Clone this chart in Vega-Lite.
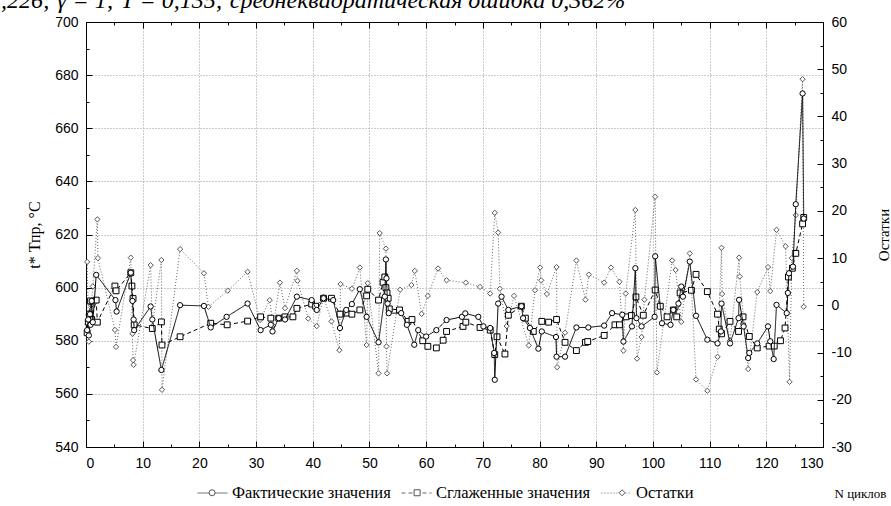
{
"$schema": "https://vega.github.io/schema/vega-lite/v6.json",
"width": 737, "height": 425,
"autosize": {"type": "none"},
"padding": {"left": 86, "top": 22, "right": 68, "bottom": 59},
"background": "white",
"config": {
  "view": {"stroke": "black", "strokeWidth": 1},
  "axis": {"labelFont": "Liberation Sans", "labelFontSize": 14, "labelColor": "#000", "domainColor": "#000", "tickColor": "#000", "titleFont": "Liberation Serif", "titleFontWeight": "normal", "titleFontSize": 16, "titleColor": "#000", "gridColor": "#999", "gridDash": [1, 2], "labelPadding": 14}
},
"title": {"text": ",226; γ = 1; T = 0,135; среднеквадратическая ошибка 0,362%", "anchor": "start", "frame": "group", "dx": -85, "offset": 0, "dy": 17, "baseline": "alphabetic", "font": "Liberation Serif", "fontStyle": "italic", "fontWeight": "normal", "fontSize": 24, "color": "#000"},
"datasets": {
"fact": [
{"s":"Фактические значения","x":0.2,"v":584},{"s":"Фактические значения","x":0.4,"v":588},{"s":"Фактические значения","x":0.5,"v":582},{"s":"Фактические значения","x":0.7,"v":590},{"s":"Фактические значения","x":0.8,"v":586},{"s":"Фактические значения","x":1.0,"v":595},{"s":"Фактические значения","x":1.2,"v":587},{"s":"Фактические значения","x":1.8,"v":604.8},{"s":"Фактические значения","x":5.2,"v":595.3},{"s":"Фактические значения","x":5.4,"v":591},{"s":"Фактические значения","x":7.9,"v":605.6},{"s":"Фактические значения","x":8.2,"v":595},{"s":"Фактические значения","x":8.4,"v":588},{"s":"Фактические значения","x":8.5,"v":584},{"s":"Фактические значения","x":11.4,"v":592.9},{"s":"Фактические значения","x":11.7,"v":588},{"s":"Фактические значения","x":13.3,"v":569},{"s":"Фактические значения","x":16.6,"v":593.4},{"s":"Фактические значения","x":20.8,"v":593.1},{"s":"Фактические значения","x":22.0,"v":585},{"s":"Фактические значения","x":24.8,"v":589},{"s":"Фактические значения","x":28.5,"v":594},{"s":"Фактические значения","x":30.8,"v":584},{"s":"Фактические значения","x":32.6,"v":586},{"s":"Фактические значения","x":32.9,"v":583.5},{"s":"Фактические значения","x":34,"v":588.5},{"s":"Фактические значения","x":35.1,"v":588},{"s":"Фактические значения","x":37.2,"v":596.6},{"s":"Фактические значения","x":39.8,"v":595.3},{"s":"Фактические значения","x":40.7,"v":591.6},{"s":"Фактические значения","x":41.9,"v":596},{"s":"Фактические значения","x":43.6,"v":595.3},{"s":"Фактические значения","x":44.8,"v":584.8},{"s":"Фактические значения","x":45.9,"v":591.6},{"s":"Фактические значения","x":46.9,"v":593.8},{"s":"Фактические значения","x":48.3,"v":599.4},{"s":"Фактические значения","x":49.5,"v":589},{"s":"Фактические значения","x":51.6,"v":579.4},{"s":"Фактические значения","x":52.7,"v":596.6},{"s":"Фактические значения","x":52.9,"v":610.6},{"s":"Фактические значения","x":53.0,"v":603.5},{"s":"Фактические значения","x":53.2,"v":594},{"s":"Фактические значения","x":53.4,"v":590.4},{"s":"Фактические значения","x":55.6,"v":590.4},{"s":"Фактические значения","x":56.6,"v":586},{"s":"Фактические значения","x":57.9,"v":578.5},{"s":"Фактические значения","x":58.6,"v":584},{"s":"Фактические значения","x":60,"v":581.6},{"s":"Фактические значения","x":61.8,"v":584},{"s":"Фактические значения","x":63.6,"v":587.8},{"s":"Фактические значения","x":66.3,"v":589},{"s":"Фактические значения","x":66.9,"v":590.3},{"s":"Фактические значения","x":69.2,"v":589},{"s":"Фактические значения","x":70.1,"v":585.4},{"s":"Фактические значения","x":71.3,"v":584.8},{"s":"Фактические значения","x":72.0,"v":575.4},{"s":"Фактические значения","x":72.1,"v":565.3},{"s":"Фактические значения","x":72.7,"v":594},{"s":"Фактические значения","x":73.3,"v":596.6},{"s":"Фактические значения","x":74.5,"v":591.6},{"s":"Фактические значения","x":76.8,"v":593},{"s":"Фактические значения","x":77.1,"v":588.5},{"s":"Фактические значения","x":78.3,"v":584.8},{"s":"Фактические значения","x":79.8,"v":577},{"s":"Фактические значения","x":80.4,"v":583.5},{"s":"Фактические значения","x":82.9,"v":581.4},{"s":"Фактические значения","x":83.0,"v":574},{"s":"Фактические значения","x":84.5,"v":574},{"s":"Фактические значения","x":86.5,"v":585},{"s":"Фактические значения","x":88.6,"v":585},{"s":"Фактические значения","x":91.4,"v":585.7},{"s":"Фактические значения","x":92.8,"v":590.4},{"s":"Фактические значения","x":94.6,"v":589.8},{"s":"Фактические значения","x":94.8,"v":579.7},{"s":"Фактические значения","x":96.3,"v":585.4},{"s":"Фактические значения","x":96.9,"v":607.3},{"s":"Фактические значения","x":97.1,"v":588.5},{"s":"Фактические значения","x":98,"v":585.4},{"s":"Фактические значения","x":100.3,"v":589},{"s":"Фактические значения","x":100.4,"v":611.8},{"s":"Фактические значения","x":101.6,"v":586.6},{"s":"Фактические значения","x":103.1,"v":586},{"s":"Фактические значения","x":103.6,"v":591.6},{"s":"Фактические значения","x":104.5,"v":594},{"s":"Фактические значения","x":105,"v":600.4},{"s":"Фактические значения","x":105.3,"v":596.6},{"s":"Фактические значения","x":106.5,"v":609.8},{"s":"Фактические значения","x":107.6,"v":589.4},{"s":"Фактические значения","x":109.6,"v":580.4},{"s":"Фактические значения","x":111.4,"v":579},{"s":"Фактические значения","x":112.0,"v":583.5},{"s":"Фактические значения","x":112.1,"v":594},{"s":"Фактические значения","x":113.6,"v":579},{"s":"Фактические значения","x":115.1,"v":588.5},{"s":"Фактические значения","x":115.2,"v":595.4},{"s":"Фактические значения","x":116,"v":585.4},{"s":"Фактические значения","x":116.8,"v":573.5},{"s":"Фактические значения","x":117.0,"v":575.4},{"s":"Фактические значения","x":118.4,"v":579},{"s":"Фактические значения","x":120.3,"v":585.4},{"s":"Фактические значения","x":120.7,"v":579.8},{"s":"Фактические значения","x":121.3,"v":573.1},{"s":"Фактические значения","x":121.8,"v":593.5},{"s":"Фактические значения","x":123.6,"v":590.4},{"s":"Фактические значения","x":123.8,"v":598},{"s":"Фактические значения","x":124.0,"v":605.4},{"s":"Фактические значения","x":124.7,"v":607.9},{"s":"Фактические значения","x":125.2,"v":631.4},{"s":"Фактические значения","x":126.4,"v":673.1},{"s":"Фактические значения","x":126.6,"v":626}
],
"smooth": [
{"s":"Сглаженные значения","x":0.2,"v":583},{"s":"Сглаженные значения","x":0.4,"v":587},{"s":"Сглаженные значения","x":0.6,"v":590},{"s":"Сглаженные значения","x":0.8,"v":595},{"s":"Сглаженные значения","x":1.0,"v":588},{"s":"Сглаженные значения","x":1.8,"v":595.3},{"s":"Сглаженные значения","x":2.0,"v":587},{"s":"Сглаженные значения","x":5.1,"v":600.6},{"s":"Сглаженные значения","x":5.3,"v":598.8},{"s":"Сглаженные значения","x":7.9,"v":605.6},{"s":"Сглаженные значения","x":8.1,"v":600.6},{"s":"Сглаженные значения","x":8.3,"v":595.9},{"s":"Сглаженные значения","x":8.5,"v":586},{"s":"Сглаженные значения","x":11.7,"v":584.6},{"s":"Сглаженные значения","x":13.3,"v":587.1},{"s":"Сглаженные значения","x":13.4,"v":578.4},{"s":"Сглаженные значения","x":16.6,"v":581.5},{"s":"Сглаженные значения","x":22,"v":586.6},{"s":"Сглаженные значения","x":24.9,"v":586},{"s":"Сглаженные значения","x":28.5,"v":587.4},{"s":"Сглаженные значения","x":30.8,"v":589},{"s":"Сглаженные значения","x":32.6,"v":588.5},{"s":"Сглаженные значения","x":34,"v":588.5},{"s":"Сглаженные значения","x":35.1,"v":589},{"s":"Сглаженные значения","x":36.5,"v":589},{"s":"Сглаженные значения","x":37.2,"v":592.2},{"s":"Сглаженные значения","x":39.8,"v":593.8},{"s":"Сглаженные значения","x":40.5,"v":593},{"s":"Сглаженные значения","x":41.9,"v":596},{"s":"Сглаженные значения","x":43.3,"v":596},{"s":"Сглаженные значения","x":44.8,"v":590},{"s":"Сглаженные значения","x":45.9,"v":590.4},{"s":"Сглаженные значения","x":46.9,"v":590},{"s":"Сглаженные значения","x":48.3,"v":591.6},{"s":"Сглаженные значения","x":49.5,"v":596.9},{"s":"Сглаженные значения","x":49.7,"v":599.4},{"s":"Сглаженные значения","x":51.6,"v":595.3},{"s":"Сглаженные значения","x":52.4,"v":602},{"s":"Сглаженные значения","x":52.7,"v":604},{"s":"Сглаженные значения","x":52.9,"v":600},{"s":"Сглаженные значения","x":53.1,"v":598},{"s":"Сглаженные значения","x":53.3,"v":596},{"s":"Сглаженные значения","x":53.5,"v":592},{"s":"Сглаженные значения","x":55.3,"v":591.6},{"s":"Сглаженные значения","x":56.8,"v":587.3},{"s":"Сглаженные значения","x":57.5,"v":588},{"s":"Сглаженные значения","x":59.4,"v":580},{"s":"Сглаженные значения","x":60.3,"v":577.9},{"s":"Сглаженные значения","x":61.8,"v":577.3},{"s":"Сглаженные значения","x":63,"v":580.2},{"s":"Сглаженные значения","x":63.6,"v":583.5},{"s":"Сглаженные значения","x":66.5,"v":585.4},{"s":"Сглаженные значения","x":67,"v":587},{"s":"Сглаженные значения","x":69.5,"v":585},{"s":"Сглаженные значения","x":71.3,"v":584},{"s":"Сглаженные значения","x":72.1,"v":574.8},{"s":"Сглаженные значения","x":72.5,"v":581.5},{"s":"Сглаженные значения","x":73.9,"v":575},{"s":"Сглаженные значения","x":74.5,"v":589.6},{"s":"Сглаженные значения","x":76.8,"v":593},{"s":"Сглаженные значения","x":77.5,"v":588.5},{"s":"Сглаженные значения","x":78.9,"v":583.5},{"s":"Сглаженные значения","x":80.4,"v":587.3},{"s":"Сглаженные значения","x":81.6,"v":587},{"s":"Сглаженные значения","x":83,"v":588},{"s":"Сглаженные значения","x":84.5,"v":579.4},{"s":"Сглаженные значения","x":86.5,"v":576.3},{"s":"Сглаженные значения","x":88.1,"v":579.4},{"s":"Сглаженные значения","x":88.5,"v":579.7},{"s":"Сглаженные значения","x":91.4,"v":582},{"s":"Сглаженные значения","x":93.3,"v":586},{"s":"Сглаженные значения","x":94.1,"v":586},{"s":"Сглаженные значения","x":95.3,"v":589},{"s":"Сглаженные значения","x":96.2,"v":589.5},{"s":"Сглаженные значения","x":97,"v":596.5},{"s":"Сглаженные значения","x":98.3,"v":589.6},{"s":"Сглаженные значения","x":100.4,"v":599.1},{"s":"Сглаженные значения","x":101.3,"v":593},{"s":"Сглаженные значения","x":102.5,"v":589},{"s":"Сглаженные значения","x":103.6,"v":591.6},{"s":"Сглаженные значения","x":104.2,"v":589},{"s":"Сглаженные значения","x":104.8,"v":598},{"s":"Сглаженные значения","x":106.8,"v":599},{"s":"Сглаженные значения","x":107.6,"v":605},{"s":"Сглаженные значения","x":109.6,"v":598.5},{"s":"Сглаженные значения","x":111.4,"v":590},{"s":"Сглаженные значения","x":111.7,"v":584.4},{"s":"Сглаженные значения","x":112.1,"v":582.6},{"s":"Сглаженные значения","x":113.6,"v":587.3},{"s":"Сглаженные значения","x":115.1,"v":583.5},{"s":"Сглаженные значения","x":115.9,"v":589},{"s":"Сглаженные значения","x":117,"v":581.6},{"s":"Сглаженные значения","x":118.4,"v":577.3},{"s":"Сглаженные значения","x":120.5,"v":578},{"s":"Сглаженные значения","x":121.4,"v":578},{"s":"Сглаженные значения","x":122.5,"v":580},{"s":"Сглаженные значения","x":123.3,"v":584.8},{"s":"Сглаженные значения","x":123.9,"v":604},{"s":"Сглаженные значения","x":124.6,"v":607.3},{"s":"Сглаженные значения","x":125.2,"v":612.9},{"s":"Сглаженные значения","x":126.4,"v":624},{"s":"Сглаженные значения","x":126.6,"v":626.4}
],
"resid": [
{"s":"Остатки","x":0.2,"v":9.2},{"s":"Остатки","x":0.4,"v":-2},{"s":"Остатки","x":0.5,"v":-7.7},{"s":"Остатки","x":0.7,"v":-4},{"s":"Остатки","x":0.9,"v":0},{"s":"Остатки","x":1.2,"v":4},{"s":"Остатки","x":2.0,"v":18.2},{"s":"Остатки","x":2.1,"v":10},{"s":"Остатки","x":5.1,"v":-5.2},{"s":"Остатки","x":5.3,"v":-8.8},{"s":"Остатки","x":7.9,"v":10.1},{"s":"Остатки","x":8.2,"v":-6},{"s":"Остатки","x":8.3,"v":-11.6},{"s":"Остатки","x":8.4,"v":-12.6},{"s":"Остатки","x":11.4,"v":8.5},{"s":"Остатки","x":11.7,"v":-4.4},{"s":"Остатки","x":13.3,"v":9.6},{"s":"Остатки","x":13.4,"v":-17.9},{"s":"Остатки","x":16.6,"v":11.9},{"s":"Остатки","x":20.8,"v":6.8},{"s":"Остатки","x":21.6,"v":-0.3},{"s":"Остатки","x":25,"v":3.1},{"s":"Остатки","x":28.5,"v":7.1},{"s":"Остатки","x":30.7,"v":-3.1},{"s":"Остатки","x":32.4,"v":1.1},{"s":"Остатки","x":33,"v":-4.3},{"s":"Остатки","x":34.2,"v":4.8},{"s":"Остатки","x":35.1,"v":-0.6},{"s":"Остатки","x":37.2,"v":7.3},{"s":"Остатки","x":37.3,"v":5.2},{"s":"Остатки","x":39.2,"v":-2.8},{"s":"Остатки","x":40.7,"v":-4.4},{"s":"Остатки","x":41.9,"v":1.8},{"s":"Остатки","x":43.3,"v":-3.4},{"s":"Остатки","x":44.7,"v":-9.5},{"s":"Остатки","x":44.9,"v":4.5},{"s":"Остатки","x":46.9,"v":3.5},{"s":"Остатки","x":48.3,"v":8},{"s":"Остатки","x":49.5,"v":-8.4},{"s":"Остатки","x":49.7,"v":4.7},{"s":"Остатки","x":51.6,"v":-14.4},{"s":"Остатки","x":51.8,"v":15.3},{"s":"Остатки","x":52.9,"v":12},{"s":"Остатки","x":53.0,"v":-8.7},{"s":"Остатки","x":53.1,"v":-14.4},{"s":"Остатки","x":55.4,"v":3.3},{"s":"Остатки","x":57.4,"v":4.3},{"s":"Остатки","x":58,"v":7.3},{"s":"Остатки","x":59.2,"v":-1.8},{"s":"Остатки","x":60.3,"v":2},{"s":"Остатки","x":62.1,"v":7.8},{"s":"Остатки","x":63.6,"v":5.3},{"s":"Остатки","x":67,"v":4.8},{"s":"Остатки","x":69.5,"v":3.9},{"s":"Остатки","x":71.3,"v":2.5},{"s":"Остатки","x":72.1,"v":19.6},{"s":"Остатки","x":72.7,"v":15.4},{"s":"Остатки","x":73,"v":3.5},{"s":"Остатки","x":74.2,"v":-4.4},{"s":"Остатки","x":75.5,"v":2},{"s":"Остатки","x":78.1,"v":-8.5},{"s":"Остатки","x":79.2,"v":3.2},{"s":"Остатки","x":80.1,"v":8},{"s":"Остатки","x":80.3,"v":5.3},{"s":"Остатки","x":81.3,"v":2.4},{"s":"Остатки","x":83,"v":8.1},{"s":"Остатки","x":83.1,"v":-13.1},{"s":"Остатки","x":84.5,"v":-5.8},{"s":"Остатки","x":86.5,"v":9.5},{"s":"Остатки","x":88.1,"v":1.2},{"s":"Остатки","x":88.7,"v":6.5},{"s":"Остатки","x":91.4,"v":4.8},{"s":"Остатки","x":92.6,"v":8},{"s":"Остатки","x":94.1,"v":5},{"s":"Остатки","x":94.8,"v":-9.6},{"s":"Остатки","x":95.2,"v":2.5},{"s":"Остатки","x":96.9,"v":20.2},{"s":"Остатки","x":97.2,"v":-11.3},{"s":"Остатки","x":98,"v":-6.7},{"s":"Остатки","x":98.5,"v":1.2},{"s":"Остатки","x":100.4,"v":23},{"s":"Остатки","x":100.7,"v":-14.2},{"s":"Остатки","x":103.4,"v":9.5},{"s":"Остатки","x":104,"v":7.5},{"s":"Остатки","x":105,"v":-3.5},{"s":"Остатки","x":106.5,"v":11},{"s":"Остатки","x":107.6,"v":-15.7},{"s":"Остатки","x":109.6,"v":-18.1},{"s":"Остатки","x":111.4,"v":-10.9},{"s":"Остатки","x":112.1,"v":12.2},{"s":"Остатки","x":112.2,"v":2.4},{"s":"Остатки","x":113.6,"v":-7.5},{"s":"Остатки","x":115.2,"v":10.1},{"s":"Остатки","x":115.3,"v":6.1},{"s":"Остатки","x":116.8,"v":-13.5},{"s":"Остатки","x":118.4,"v":2.8},{"s":"Остатки","x":120.3,"v":8.1},{"s":"Остатки","x":120.7,"v":3},{"s":"Остатки","x":121.8,"v":16},{"s":"Остатки","x":123.4,"v":12.5},{"s":"Остатки","x":124.1,"v":-16.2},{"s":"Остатки","x":124.5,"v":10},{"s":"Остатки","x":125.2,"v":19.1},{"s":"Остатки","x":126.4,"v":47.9},{"s":"Остатки","x":126.6,"v":-0.3}
]
},
"resolve": {"scale": {"y": "independent"}, "axis": {"x": "independent", "y": "independent"}},
"layer": [
  {
    "data": {"name": "resid"},
    "encoding": {
      "x": {"field": "x", "type": "quantitative", "scale": {"domain": [0, 130], "nice": false, "zero": false},
            "axis": {"orient": "top", "values": [0,5,10,15,20,25,30,35,40,45,50,55,60,65,70,75,80,85,90,95,100,105,110,115,120,125,130], "labels": false, "grid": false, "title": null,
                     "tickSize": {"condition": {"test": "datum.value % 10 !== 0", "value": -3}, "value": -6}}},
      "y": {"field": "v", "type": "quantitative", "scale": {"domain": [-30, 60], "nice": false, "zero": false},
            "axis": {"orient": "right", "values": [-30,-25,-20,-15,-10,-5,0,5,10,15,20,25,30,35,40,45,50,55,60], "grid": false,
                     "labelExpr": "datum.value % 10 === 0 ? replace(datum.label, '−', '-') : ''",
                     "tickSize": {"condition": {"test": "datum.value % 10 !== 0", "value": -3}, "value": -6},
                     "title": "Остатки", "titleAngle": 270, "titlePadding": 40, "titleFontSize": 15}}
    },
    "layer": [
      {"mark": {"type": "line", "stroke": "#666", "strokeWidth": 1},
       "encoding": {"strokeDash": {"field": "s", "type": "nominal", "sort": "descending", "scale": {"range": [[1, 0], [4, 3], [1, 2]]}}}},
      {"mark": {"type": "point", "filled": true, "fill": "white", "stroke": "#555", "strokeWidth": 1, "size": 28, "opacity": 1},
       "encoding": {"shape": {"field": "s", "type": "nominal", "scale": {"domain": ["Фактические значения", "Сглаженные значения", "Остатки"], "range": ["circle", "square", "diamond"]}}}}
    ]
  },
  {
    "encoding": {
      "x": {"field": "x", "type": "quantitative", "scale": {"domain": [0, 130], "nice": false, "zero": false},
            "axis": {"orient": "bottom", "values": [0,5,10,15,20,25,30,35,40,45,50,55,60,65,70,75,80,85,90,95,100,105,110,115,120,125,130],
                     "labelExpr": "datum.value % 10 === 0 ? datum.label : ''",
                     "tickSize": {"condition": {"test": "datum.value % 10 !== 0", "value": -3}, "value": -6},
                     "gridOpacity": {"condition": {"test": "datum.value % 10 !== 0", "value": 0}, "value": 1},
                     "grid": true, "labelPadding": 15,
                     "title": "N циклов", "titleX": 748, "titleY": 50, "titleAlign": "left", "titleBaseline": "alphabetic", "titleFontSize": 13}},
      "y": {"field": "v", "type": "quantitative", "scale": {"domain": [540, 700], "nice": false, "zero": false},
            "axis": {"orient": "left", "values": [540,550,560,570,580,590,600,610,620,630,640,650,660,670,680,690,700],
                     "labelExpr": "datum.value % 20 === 0 ? datum.label : ''",
                     "tickSize": {"condition": {"test": "datum.value % 20 !== 0", "value": -3}, "value": -6},
                     "gridOpacity": {"condition": {"test": "datum.value % 20 !== 0", "value": 0}, "value": 1},
                     "grid": true,
                     "title": "t* Тпр, °C", "titlePadding": 12}}
    },
    "layer": [
      {"data": {"name": "smooth"}, "mark": {"type": "line", "stroke": "#000", "strokeWidth": 1},
       "encoding": {"strokeDash": {"field": "s", "type": "nominal", "sort": "descending", "scale": {"range": [[1, 0], [4, 3], [1, 2]]}}}},
      {"data": {"name": "smooth"}, "mark": {"type": "point", "filled": true, "fill": "white", "stroke": "#000", "strokeWidth": 1, "size": 34, "opacity": 1},
       "encoding": {"shape": {"field": "s", "type": "nominal", "scale": {"domain": ["Фактические значения", "Сглаженные значения", "Остатки"], "range": ["circle", "square", "diamond"]}}}},
      {"data": {"name": "fact"}, "mark": {"type": "line", "stroke": "#000", "strokeWidth": 1},
       "encoding": {"strokeDash": {"field": "s", "type": "nominal", "sort": "descending", "scale": {"range": [[1, 0], [4, 3], [1, 2]]},
          "legend": {"orient": "none", "legendX": 111, "legendY": 455.5, "direction": "horizontal", "title": null,
                     "symbolType": "stroke", "symbolSize": 900, "symbolStrokeWidth": 1, "symbolStrokeColor": "#000", "symbolOpacity": 1,
                     "labelFont": "Liberation Serif", "labelFontSize": 16.5, "labelColor": "#000", "columnPadding": 8, "labelOffset": 4}}}},
      {"data": {"name": "fact"}, "mark": {"type": "point", "filled": true, "fill": "white", "stroke": "#000", "strokeWidth": 1, "size": 28, "opacity": 1},
       "encoding": {"shape": {"field": "s", "type": "nominal", "scale": {"domain": ["Фактические значения", "Сглаженные значения", "Остатки"], "range": ["circle", "square", "diamond"]},
          "legend": {"orient": "none", "legendX": 122.6, "legendY": 467, "direction": "horizontal", "title": null, "gridAlign": "all",
                     "symbolSize": 36, "symbolStrokeWidth": 1, "symbolStrokeColor": "#000", "symbolFillColor": "white", "symbolOpacity": 1,
                     "labelExpr": "''", "labelFont": "Liberation Serif", "labelFontSize": 1, "columnPadding": 194, "labelOffset": 0}}}}
    ]
  }
]
}
